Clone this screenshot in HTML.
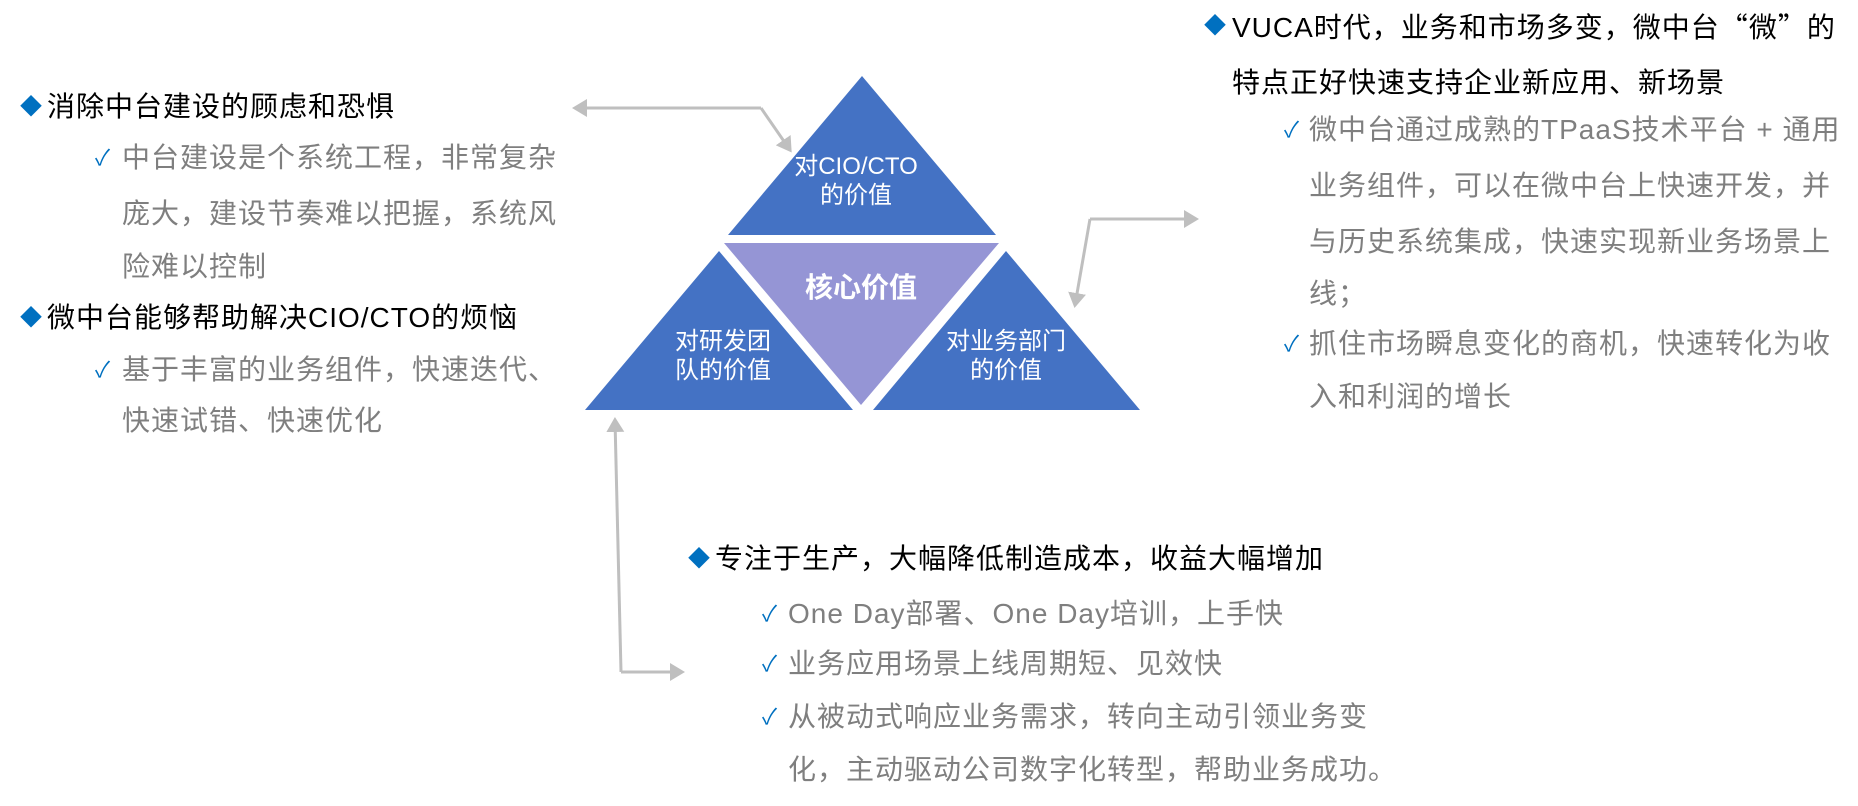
<!DOCTYPE html>
<html><head><meta charset="utf-8"><style>
body{margin:0;width:1858px;height:806px;background:#fff;position:relative;overflow:hidden;font-family:"Liberation Sans","Noto Sans CJK SC",sans-serif}
.t{position:absolute;height:40px;line-height:40px;font-size:28px;letter-spacing:1px;white-space:nowrap}
.h{color:#000}
.g{color:#7f7f7f}
.d{position:absolute;height:40px;line-height:40px;font-size:22px;color:#0070C0}
.c{position:absolute;height:40px;line-height:40px;font-size:22px;color:#0070C0}
.q{font-family:"Noto Sans CJK SC",sans-serif}
svg{position:absolute;left:0;top:0}
</style></head><body>
<svg width="1858" height="806">
<defs><marker id="a" markerWidth="6" markerHeight="6" refX="4" refY="3" orient="auto" markerUnits="strokeWidth"><path d="M0,0 L5,3 L0,6 z" fill="#BFBFBF"/></marker></defs>
<polygon points="862,76 996,235 728,235" fill="#4472C4"/>
<polygon points="724,243 999,243 861,405" fill="#9595D5"/>
<polygon points="719,251 853,410 585,410" fill="#4472C4"/>
<polygon points="1006,251 1140,410 873,410" fill="#4472C4"/>
<g stroke="#BFBFBF" stroke-width="3" fill="none">
<polyline points="761,108 575,108" marker-end="url(#a)"/>
<polyline points="761,108 790,150" marker-end="url(#a)"/>
<polyline points="1090,219 1196,219" marker-end="url(#a)"/>
<polyline points="1090,219 1075,305" marker-end="url(#a)"/>
<polyline points="621,672 615,420" marker-end="url(#a)"/>
<polyline points="621,672 682,672" marker-end="url(#a)"/>
</g>
<g fill="#fff" font-family="Liberation Sans,Noto Sans CJK SC,sans-serif" font-size="24" text-anchor="middle">
<text x="856" y="174">对CIO/CTO</text>
<text x="856" y="203">的价值</text>
<text x="723" y="349">对研发团</text>
<text x="723" y="378">队的价值</text>
<text x="1006" y="349">对业务部门</text>
<text x="1006" y="378">的价值</text>
<text x="861" y="297" font-size="28" font-weight="bold">核心价值</text>
</g>
</svg>

<div class="d" style="left:20px;top:87px">◆</div><div class="t h" style="left:47px;top:87px">消除中台建设的顾虑和恐惧</div>
<div class="c" style="left:95px;top:138px">✓</div><div class="t g" style="left:122px;top:138px">中台建设是个系统工程，非常复杂</div>
<div class="t g" style="left:122px;top:194px">庞大，建设节奏难以把握，系统风</div>
<div class="t g" style="left:122px;top:247px">险难以控制</div>
<div class="d" style="left:20px;top:298px">◆</div><div class="t h" style="left:47px;top:298px">微中台能够帮助解决CIO/CTO的烦恼</div>
<div class="c" style="left:95px;top:350px">✓</div><div class="t g" style="left:122px;top:350px">基于丰富的业务组件，快速迭代、</div>
<div class="t g" style="left:122px;top:401px">快速试错、快速优化</div>

<div class="d" style="left:1204px;top:6px">◆</div><div class="t h" style="left:1232px;top:6px">VUCA时代，业务和市场多变，微中台<span class="q">“</span>微<span class="q">”</span>的</div>
<div class="t h" style="left:1232px;top:63px">特点正好快速支持企业新应用、新场景</div>
<div class="c" style="left:1284px;top:110px">✓</div><div class="t g" style="left:1309px;top:110px">微中台通过成熟的TPaaS技术平台 + 通用</div>
<div class="t g" style="left:1309px;top:166px">业务组件，可以在微中台上快速开发，并</div>
<div class="t g" style="left:1309px;top:222px">与历史系统集成，快速实现新业务场景上</div>
<div class="t g" style="left:1309px;top:274px">线；</div>
<div class="c" style="left:1284px;top:324px">✓</div><div class="t g" style="left:1309px;top:324px">抓住市场瞬息变化的商机，快速转化为收</div>
<div class="t g" style="left:1309px;top:377px">入和利润的增长</div>

<div class="d" style="left:688px;top:539px">◆</div><div class="t h" style="left:715px;top:539px">专注于生产，大幅降低制造成本，收益大幅增加</div>
<div class="c" style="left:762px;top:594px">✓</div><div class="t g" style="left:788px;top:594px">One Day部署、One Day培训，上手快</div>
<div class="c" style="left:762px;top:644px">✓</div><div class="t g" style="left:788px;top:644px">业务应用场景上线周期短、见效快</div>
<div class="c" style="left:762px;top:697px">✓</div><div class="t g" style="left:788px;top:697px">从被动式响应业务需求，转向主动引领业务变</div>
<div class="t g" style="left:788px;top:750px">化，主动驱动公司数字化转型，帮助业务成功。</div>
</body></html>
